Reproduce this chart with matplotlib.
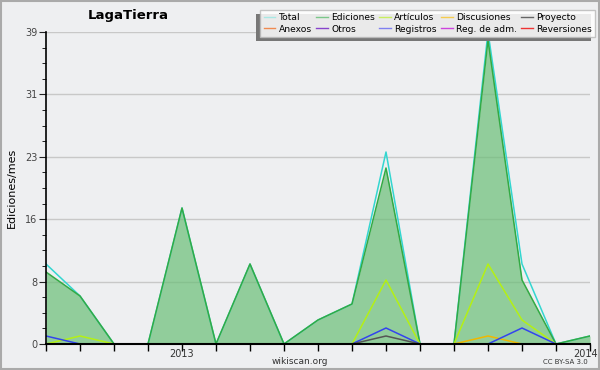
import matplotlib
matplotlib.use("Agg")
import matplotlib.pyplot as plt
import numpy as np
from matplotlib.lines import Line2D
from matplotlib.patches import Rectangle

months = list(range(17))  # Sep 2012 .. Jan 2014
year_ticks = [4, 16]
year_labels = ["2013", "2014"]
N = None
total = [10, 6, 0, 0, 17, 0, 10, 0, 3, 5, 24, 0, 0, 39, 10, 0, 1]
edits = [9, 6, 0, 0, 17, 0, 10, 0, 3, 5, 22, 0, 0, 38, 8, 0, 1]
articles = [0, 1, 0, N, N, N, N, N, N, 0, 8, 0, 0, 10, 3, 0, N]
registros = [1, 0, N, N, N, N, N, N, N, 0, 2, 0, N, 0, 2, 0, N]
proyecto = [N, N, N, N, N, N, N, N, N, 0, 1, 0, N, N, N, N, N]
discusiones = [N, N, N, N, N, N, N, N, N, N, N, N, 0, 1, 0, N, N]
y_major = [0, 7.8, 15.6, 23.4, 31.2, 39]
y_labels = ["0", "8", "16", "23", "31", "39"]

legend_names = ["Total", "Ediciones", "Artículos", "Discusiones", "Proyecto",
                "Anexos", "Otros", "Registros", "Reg. de adm.", "Reversiones"]
legend_colors = ["#a8e8e4", "#7cc78a", "#c8ee60", "#f5cc50", "#666666",
                 "#f08a50", "#8844cc", "#8080f0", "#cc44dd", "#ee3333"]

def arr(v):
    return np.array([np.nan if x is None else x for x in v], dtype=float)

bg = "#eeeff1"
fig = plt.figure(figsize=(6, 3.7), dpi=100, facecolor=bg)
ax = fig.add_axes([46/600, 26/370, 544/600, 312/370])
ax.set_facecolor(bg)

x = np.array(months)
ax.fill_between(x, 0, arr(edits), color="#6abf77", alpha=0.7, lw=0, zorder=2)
ax.plot(x, arr(total), color="#33d6d0", lw=1.1, zorder=3)
ax.plot(x, arr(edits), color="#33aa44", lw=1.1, zorder=4)
ax.plot(x, arr(articles), color="#b4f014", lw=1.1, zorder=5)
ax.plot(x, arr(discusiones), color="#f0b800", lw=1.1, zorder=5)
ax.plot(x, arr(registros), color="#3344ee", lw=1.1, zorder=6)
ax.plot(x, arr(proyecto), color="#555555", lw=1.1, zorder=6)

ax.set_xlim(0, 16)
ax.set_ylim(0, 39)
for s in ["top", "right"]:
    ax.spines[s].set_visible(False)
ax.spines["left"].set_linewidth(1.2)
ax.spines["bottom"].set_linewidth(1.5)
ax.spines["left"].set_zorder(10)
ax.spines["bottom"].set_zorder(10)

ax.set_yticks(y_major)
ax.set_yticklabels(y_labels)
ax.set_yticks(np.arange(0, 39.01, 1.95), minor=True)
ax.tick_params(axis="y", which="major", length=5, labelsize=7, colors="#222222",
               labelcolor="#444444", pad=1)
ax.tick_params(axis="y", which="minor", length=3)
for yv in y_major[1:]:
    ax.axhline(yv, color="#c8c8c8", lw=1, zorder=1)

ax.set_xticks(x)
ax.set_xticklabels([""] * len(x))
ax.tick_params(axis="x", which="major", length=5, width=1)
ax.text(year_ticks[0], -0.6, year_labels[0], ha="center", va="top", fontsize=7,
        color="#333333", clip_on=False)
ax.text(year_ticks[1] + 0.22, -0.6, year_labels[1], ha="right", va="top", fontsize=7,
        color="#333333", clip_on=False)

ax.set_ylabel("Ediciones/mes", fontsize=8, labelpad=6)
fig.text(128/600, 1 - 15/370, "LagaTierra", fontsize=9.5, fontweight="bold",
         ha="center", va="center")
fig.text(300/600, 1 - 361/370, "wikiscan.org", fontsize=6.5, ha="center",
         va="center", color="#333333")
fig.text(588/600, 1 - 362/370, "CC BY-SA 3.0", fontsize=5, ha="right",
         va="center", color="#333333")

# legend
order = [0, 5, 1, 6, 2, 7, 3, 8, 4, 9]
handles = [Line2D([], [], color=legend_colors[i], lw=1) for i in order]
labels = [legend_names[i] for i in order]
leg = fig.legend(handles, labels, ncol=5, loc="upper right",
                 bbox_to_anchor=(595/600, 1 - 10/370), fontsize=6.6,
                 frameon=True, fancybox=False, edgecolor="#bbbbbb",
                 framealpha=0.85, handlelength=1.3, handletextpad=0.35,
                 columnspacing=0.45, labelspacing=0.25, borderpad=0.35,
                 borderaxespad=0)
leg.set_zorder(20)
fig.canvas.draw()
bb = leg.get_window_extent().transformed(fig.transFigure.inverted())
fig.patches.append(Rectangle((bb.x0 - 4/600, bb.y0 - 4/370), bb.width, bb.height,
                             transform=fig.transFigure, facecolor="#777777",
                             edgecolor="none", zorder=19))

fig.patches.append(Rectangle((0.0015, 0.002), 0.997, 0.996, transform=fig.transFigure,
                             fill=False, edgecolor="#aaaaaa", lw=1.5, zorder=30))
fig.savefig("out.png", dpi=100, facecolor=bg)
